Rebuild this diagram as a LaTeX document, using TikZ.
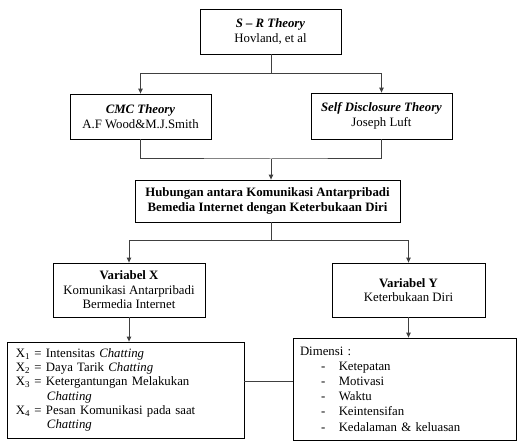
\documentclass[tikz,border=0pt]{standalone}
\usepackage{fontspec}
\setmainfont{Liberation Serif}
\usetikzlibrary{arrows.meta,calc}
\begin{document}
\begin{tikzpicture}[x=1pt,y=-1pt,
  box/.style={draw=black,line width=0.8pt,align=center,inner sep=0pt,
    font=\fontsize{12.8pt}{14.5pt}\selectfont},
  conn/.style={draw=black!75,line width=1pt},
  arr/.style={conn,-{Triangle[length=5pt,width=4.5pt]}}]
\useasboundingbox (0,0) rectangle (517,441);

\node[box,minimum width=141pt,minimum height=45pt] (sr) at (270.5,31.5)
  {\textbf{\textit{S – R Theory}}\\Hovland, et al};
\node[box,minimum width=141pt,minimum height=45pt] (cmc) at (140.5,116.5)
  {\textbf{\textit{CMC Theory}}\\A.F Wood\&M.J.Smith};
\node[box,minimum width=141pt,minimum height=46pt] (self) at (381.5,116)
  {\textbf{\textit{Self Disclosure Theory}}\\Joseph Luft};
\node[box,minimum width=265pt,minimum height=42pt] (hub) at (267.5,201)
  {\textbf{Hubungan antara Komunikasi Antarpribadi}\\\textbf{Bemedia Internet dengan Keterbukaan Diri}};
\node[box,minimum width=152pt,minimum height=54pt] (vx) at (129,290)
  {\textbf{Variabel X}\\Komunikasi Antarpribadi\\Bermedia Internet};
\node[box,minimum width=153pt,minimum height=54pt] (vy) at (408.5,290)
  {\textbf{Variabel Y}\\Keterbukaan Diri};
\node[box,align=left,inner xsep=9pt,text width=219pt,minimum height=96pt,
  font=\fontsize{12.8pt}{14.2pt}\selectfont] (list) at (125.5,390)
  {X\textsubscript{1} = Intensitas \textit{Chatting}\\
   X\textsubscript{2} = Daya Tarik \textit{Chatting}\\
   X\textsubscript{3} = Ketergantungan Melakukan\\
   \hspace*{31pt}\textit{Chatting}\\
   X\textsubscript{4} = Pesan Komunikasi pada saat\\
   \hspace*{31pt}\textit{Chatting}};
\node[box,align=left,inner xsep=7pt,text width=209pt,minimum height=102pt,
  font=\fontsize{12.8pt}{15.2pt}\selectfont] (dim) at (404.5,389)
  {Dimensi :\\
   \hspace*{21pt}-\hspace{13.5pt}Ketepatan\\
   \hspace*{21pt}-\hspace{13.5pt}Motivasi\\
   \hspace*{21pt}-\hspace{13.5pt}Waktu\\
   \hspace*{21pt}-\hspace{13.5pt}Keintensifan\\
   \hspace*{21pt}-\hspace{13.5pt}Kedalaman \& keluasan};

\coordinate (j1) at (271,74);
\coordinate (j2) at (271,159);
\coordinate (j3) at (271,240);
\coordinate (mid) at (268,381);

\draw[conn] (j1 |- sr.south) -- (j1);
\draw[arr] (j1) -| (cmc.north);
\draw[arr] (j1) -| (self.north);
\draw[conn] (cmc.south) |- (j2) -| (self.south);
\draw[arr] (j2) -- (j2 |- hub.north);
\draw[conn] (j3 |- hub.south) -- (j3);
\draw[arr] (j3) -| (vx.north);
\draw[arr] (j3) -| (vy.north);
\draw[arr] (vx.south) -- (vx.south |- list.north);
\draw[arr] (vy.south) -- (vy.south |- dim.north);
\draw[conn] (mid -| list.east) -- (mid -| dim.west);
\end{tikzpicture}
\end{document}
